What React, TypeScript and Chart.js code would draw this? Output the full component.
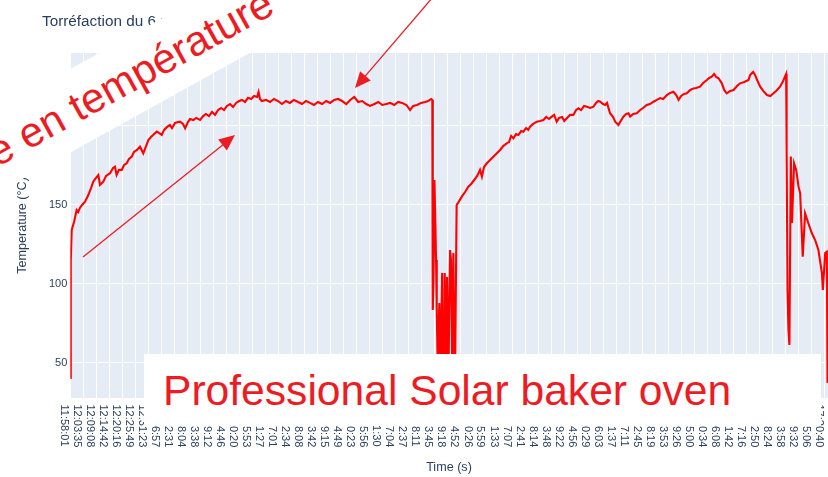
import React, { useEffect, useRef } from "react";
import { Chart, registerables } from "chart.js";

Chart.register(...registerables);

// ---- data ----
const TITLE = "Torréfaction du 6 mai";
const Y_TITLE = "Temperature (°C)";
const X_TITLE = "Time (s)";
const BAND_TEXT = "Montée en température";
const BOX_TEXT = "Professional Solar baker oven";

const TICK_LABELS = [
  "11:58:01", "12:03:35", "12:09:08", "12:14:42", "12:20:16", "12:25:49", "12:31:23", "12:36:57",
  "12:42:31", "12:48:04", "12:53:38", "12:59:12", "13:04:46", "13:10:20", "13:15:53", "13:21:27",
  "13:27:01", "13:32:34", "13:38:08", "13:43:42", "13:49:15", "13:54:49", "14:00:23", "14:05:56",
  "14:11:30", "14:17:04", "14:22:37", "14:28:11", "14:33:45", "14:39:18", "14:44:52", "14:50:26",
  "14:55:59", "15:01:33", "15:07:07", "15:12:41", "15:18:14", "15:23:48", "15:29:22", "15:34:56",
  "15:40:29", "15:46:03", "15:51:37", "15:57:11", "16:02:45", "16:08:19", "16:13:53", "16:19:26",
  "16:25:00", "16:30:34", "16:36:08", "16:41:42", "16:47:16", "16:52:50", "16:58:24", "17:03:58",
  "17:09:32", "17:15:06", "17:20:40",
];
const Y_TICKS = [50, 100, 150, 200];
const Y_MIN = 27.8;
const Y_MAX = 246.2;
const X_MAX_MIN = 324; // minutes after the first label

// [minutes since 11:58:01, °C]
const ROAST_1 = [
  [0, 40.5], [0.2, 115], [0.6, 134.2], [1.6, 139.2], [2.7, 146.8], [3.4, 145.6], [4.1, 148.1], [5.0, 150],
  [6.3, 152.1], [7.7, 156.3], [8.9, 160.8], [9.8, 164.7], [11.0, 167.1], [12.0, 169], [12.7, 162.7],
  [14.1, 164.7], [15.3, 168.4], [17.0, 170.1], [18.3, 173.4], [19.1, 174.2], [19.8, 169.0], [20.8, 172.2],
  [22.0, 172.2], [23.0, 175.3], [24.1, 176.4], [25.1, 179.1], [26.3, 180.6], [27.2, 183.5], [28.5, 184.8],
  [29.8, 186.9], [31.2, 182.7], [32.4, 187.3], [33.4, 191.1], [34.5, 193.0], [35.4, 194.3], [37.0, 196.4],
  [37.9, 195.6], [39.1, 194.3], [40.1, 197.5], [41.4, 199.4], [42.6, 200.6], [43.5, 198.7], [44.8, 201.9],
  [46.1, 202.5], [46.9, 202.7], [48.2, 201.3], [49.1, 198.5], [50.3, 202.5], [51.2, 204.4], [52.6, 203.8],
  [53.8, 205.1], [55.5, 203.8], [56.8, 206.3], [58.0, 207.6], [59.3, 206.3], [60.6, 208.9], [61.9, 207.0],
  [63.2, 210.1], [64.5, 211.4], [65.7, 210.1], [67.0, 212.7], [68.3, 213.9], [69.6, 212.0], [70.9, 214.6],
  [72.2, 215.8], [73.4, 216.5], [74.7, 215.2], [76.0, 217.8], [77.3, 217.1], [78.6, 219.0], [79.9, 218.4],
  [80.5, 221.5], [81.1, 217.1], [81.9, 215.8], [83.7, 216.5], [85.4, 215.2], [87.1, 217.1], [88.8, 215.8],
  [90.5, 213.9], [92.2, 215.8], [93.9, 214.6], [95.6, 216.5], [97.4, 215.2], [99.1, 213.9], [100.8, 215.8],
  [102.5, 214.6], [104.2, 213.3], [105.9, 215.2], [107.7, 213.9], [109.4, 215.8], [111.1, 214.6],
  [112.8, 216.5], [114.5, 217.1], [116.2, 215.8], [118.0, 213.9], [119.7, 216.5], [121.4, 218.4],
  [123.1, 215.2], [124.8, 215.8], [126.5, 213.9], [128.2, 212.7], [130.0, 213.9], [131.7, 215.2],
  [133.4, 213.3], [135.1, 213.9], [136.8, 214.6], [138.5, 213.3], [140.2, 215.2], [141.9, 214.6],
  [143.7, 213.3], [145.3, 210.1], [146.6, 212.7], [148.3, 213.3], [150.0, 214.6], [151.7, 215.2],
  [153.0, 215.8], [154.3, 217.1], [154.8, 216.5],
];
const COOLDOWN_1 = [
  [155.0, 83.5], [155.3, 100.6], [155.7, 165.8], [156.1, 138.6], [156.4, 115.2], [156.7, 83.5], [157.1, 48.7],
  [157.5, 70.9], [157.8, 88.0], [158.2, 39], [158.5, 61.4], [159.0, 107.0], [159.5, 39], [159.8, 70.9],
  [160.1, 107.0], [160.7, 36], [161.1, 104.4], [161.7, 39], [162.1, 89.9], [162.4, 121.5], [162.8, 115.2],
  [163.4, 36], [163.8, 119.6], [164.2, 45.6], [164.5, 39],
];
const ROAST_2 = [
  [165.2, 150], [165.8, 151.3], [167.4, 155.3], [168.8, 158.2], [170.2, 161.6], [171.4, 163.3], [172.7, 165.8],
  [174.0, 168.4], [175.2, 172.2], [176.0, 167.9], [176.9, 174.0], [178.1, 176.4], [179.5, 178.5],
  [180.8, 180.4], [182.4, 182.7], [183.8, 184.8], [185.1, 187.3], [186.6, 189.0], [187.6, 189.8],
  [188.5, 193.7], [189.5, 192.2], [190.6, 194.9], [191.6, 194.3], [192.8, 196.8], [193.7, 196.4],
  [194.9, 198.7], [195.8, 197.5], [196.6, 199.6], [197.9, 201.3], [199.5, 202.7], [200.9, 203.2],
  [202.3, 203.8], [203.5, 205.7], [204.7, 204.4], [205.9, 205.9], [206.9, 207.0], [208.0, 202.7],
  [209.0, 205.1], [210.3, 205.7], [211.2, 203.2], [212.3, 204.9], [213.7, 207.0], [215.1, 207.0],
  [216.3, 210.1], [217.3, 211.2], [218.4, 210.1], [219.7, 212.7], [220.9, 212.2], [222.3, 211.4],
  [223.7, 212.2], [224.8, 214.6], [225.7, 215.8], [226.6, 215.4], [227.8, 213.9], [228.7, 213.3],
  [229.5, 214.6], [230.8, 208.1], [232.1, 205.7], [233.0, 202.7], [234.4, 200.6], [235.1, 202.5],
  [236.5, 205.9], [237.7, 207.6], [238.7, 208.0], [239.4, 205.9], [240.7, 207.6], [242.2, 208.0],
  [243.7, 210.1], [244.9, 211.4], [246.5, 213.3], [247.9, 213.9], [249.2, 215.2], [250.8, 216.5],
  [252.2, 217.7], [253.5, 217.1], [255.1, 219.6], [256.5, 220.9], [257.9, 221.7], [259.1, 219.6],
  [260.1, 216.5], [261.2, 219.0], [262.5, 220.3], [263.6, 220.7], [265.1, 222.8], [266.5, 223.8],
  [267.6, 224.1], [269.3, 224.9], [270.6, 227.2], [272.2, 229.1], [273.2, 230.4], [274.3, 231.2],
  [275.3, 232.9], [276.2, 231.0], [277.2, 230.2], [278.6, 227.0], [279.6, 222.8], [280.7, 220.7],
  [282.2, 222.2], [283.6, 222.8], [285.1, 225.3], [286.4, 227.0], [288.2, 227.8], [290.0, 229.1],
  [290.7, 232.3], [291.4, 233.4], [292.0, 234.2], [292.8, 232.3], [293.7, 229.1], [295.0, 224.9],
  [296.3, 222.2], [297.9, 219.6], [299.3, 219.0], [300.7, 220.7], [301.8, 222.2], [303.5, 224.9],
  [304.8, 228.5], [306.1, 232.9],
];
const COOLDOWN_2 = [
  [306.3, 184.8], [306.7, 96.2], [307.1, 70.9], [307.5, 61.4], [308.1, 180.6], [308.6, 138.6], [309.5, 176.4],
  [310.4, 172.2], [311.4, 161.6], [312.1, 157.4], [313.2, 117.3], [314.2, 144.7], [315.6, 138.4],
  [317.1, 132.1], [318.5, 127.8], [319.9, 121.5], [321.4, 106.8], [321.8, 96.2], [322.8, 119.6],
  [323.5, 120.4], [323.8, 37.3],
];

// ---- styling ----
const W = 900;
const H = 477;
const FONT = '"Liberation Sans", Arial, sans-serif';
const INK = "#2a3f5f";
const RED = "#ec1c24";

const toSec = (s: string) => {
  const [h, m, x] = s.split(":").map(Number);
  return h * 3600 + m * 60 + x;
};
const T0 = toSec(TICK_LABELS[0]);
const TICK_POS = TICK_LABELS.map((l) => (toSec(l) - T0) / 60);

const ARROWS = [
  { from: [83, 257], to: [235, 135] },
  { from: [433, -3], to: [355, 88] },
];

function arrow(from: number[], to: number[], len = 16, hw = 7) {
  const dx = to[0] - from[0];
  const dy = to[1] - from[1];
  const d = Math.hypot(dx, dy);
  const ux = dx / d;
  const uy = dy / d;
  const bx = to[0] - ux * len;
  const by = to[1] - uy * len;
  const pts = `${to[0]},${to[1]} ${bx - uy * hw},${by + ux * hw} ${bx + uy * hw},${by - ux * hw}`;
  return { bx: bx + ux * 1, by: by + uy * 1, pts };
}

const plotBg = {
  id: "plotBg",
  beforeDraw(chart: any) {
    const { ctx, chartArea: a } = chart;
    ctx.save();
    ctx.fillStyle = "#E5ECF6";
    ctx.fillRect(a.left, a.top, a.right - a.left, a.bottom - a.top);
    ctx.restore();
  },
};

const xLabels = {
  id: "xLabels",
  afterDraw(chart: any) {
    const s = chart.scales.x;
    const ctx = chart.ctx;
    ctx.save();
    ctx.font = `11px ${FONT}`;
    ctx.fillStyle = INK;
    ctx.textAlign = "left";
    ctx.textBaseline = "alphabetic";
    TICK_POS.forEach((t, i) => {
      if (t < s.min || t > s.max) return;
      const px = s.getPixelForValue(t);
      ctx.save();
      ctx.translate(px - 9, 404.5);
      ctx.rotate(Math.PI / 2);
      ctx.fillText(TICK_LABELS[i], 0, 0);
      ctx.restore();
    });
    ctx.restore();
  },
};

export default function App() {
  const ref = useRef<HTMLCanvasElement | null>(null);

  useEffect(() => {
    if (!ref.current) return;
    const points = [...ROAST_1, ...COOLDOWN_1, ...ROAST_2, ...COOLDOWN_2].map(([x, y]) => ({ x, y }));
    const chart = new Chart(ref.current, {
      type: "line",
      data: {
        datasets: [
          {
            data: points,
            borderColor: "#ff0000",
            borderWidth: 2.1,
            pointRadius: 0,
            tension: 0,
            fill: false,
          },
        ],
      },
      options: {
        animation: false,
        responsive: false,
        maintainAspectRatio: false,
        devicePixelRatio: 1,
        layout: { padding: { left: 0, top: 53, right: W - 828, bottom: 0 } },
        plugins: { legend: { display: false }, tooltip: { enabled: false }, title: { display: false } },
        scales: {
          x: {
            type: "linear",
            min: 0,
            max: X_MAX_MIN,
            afterBuildTicks: (s: any) => {
              s.ticks = TICK_POS.filter((v) => v <= X_MAX_MIN).map((v) => ({ value: v }));
            },
            afterFit: (s: any) => {
              s.height = 79;
            },
            ticks: { display: false },
            grid: { color: "#ffffff", lineWidth: 1, drawTicks: false },
            border: { display: false },
          },
          y: {
            min: Y_MIN,
            max: Y_MAX,
            afterBuildTicks: (s: any) => {
              s.ticks = Y_TICKS.map((v) => ({ value: v }));
            },
            afterFit: (s: any) => {
              s.width = 70.3;
            },
            ticks: { font: { family: FONT, size: 11 }, color: INK, padding: 3 },
            grid: { color: "#ffffff", lineWidth: 1, drawTicks: false },
            border: { display: false },
          },
        },
      } as any,
      plugins: [plotBg, xLabels],
    });
    return () => chart.destroy();
  }, []);

  return (
    <div
      style={{
        position: "fixed",
        left: 0,
        top: 0,
        width: 828,
        height: 477,
        overflow: "hidden",
        background: "#fff",
      }}
    >
      <canvas
        ref={ref}
        width={W}
        height={H}
        style={{ position: "absolute", left: 0, top: 0, width: W, height: H }}
      />
      <svg
        width={828}
        height={477}
        style={{ position: "absolute", left: 0, top: 0 }}
        fontFamily={FONT}
      >
        <text x={42} y={26} fontSize={15.3} fill={INK}>
          {TITLE}
        </text>
        <text transform="translate(26,225.5) rotate(-90)" textAnchor="middle" fontSize={12.6} fill={INK}>
          {Y_TITLE}
        </text>
        <text x={449} y={471} textAnchor="middle" fontSize={12.6} fill={INK}>
          {X_TITLE}
        </text>
        <g transform="translate(79,106) rotate(-29)">
          <rect x={-420} y={-36.5} width={800} height={73} fill="#ffffff" />
          <text x={0} y={14} textAnchor="middle" fontSize={42} fill={RED}>
            {BAND_TEXT}
          </text>
        </g>
        {ARROWS.map((a, i) => {
          const h = arrow(a.from, a.to);
          return (
            <g key={i}>
              <line x1={a.from[0]} y1={a.from[1]} x2={h.bx} y2={h.by} stroke={RED} strokeWidth={1.3} />
              <polygon points={h.pts} fill={RED} />
            </g>
          );
        })}
        <rect x={144} y={354} width={677} height={72} fill="#ffffff" />
        <text x={163} y={405} fontSize={42.6} fill={RED}>
          {BOX_TEXT}
        </text>
      </svg>
    </div>
  );
}
